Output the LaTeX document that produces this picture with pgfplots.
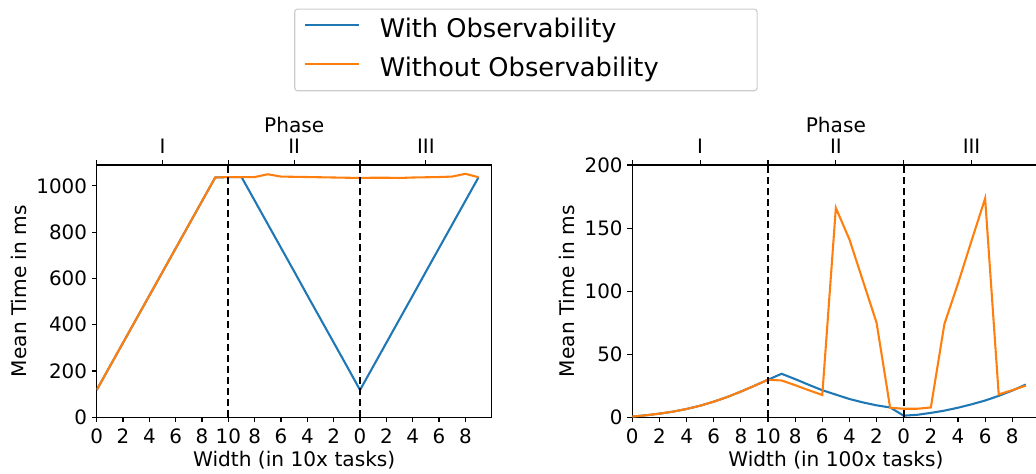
\documentclass[border=0pt]{standalone}
\usepackage{pgfplots}
\pgfplotsset{compat=1.18}
\usepackage{fontspec}
\setmainfont{DejaVu Sans}
\definecolor{mblue}{HTML}{1F77B4}
\definecolor{morange}{HTML}{FF7F0E}

\pgfplotstableread{
x y
0 118
1 220
2 322
3 424
4 526
5 628
6 730
7 832
8 934
9 1036
10 1038
11 1038
12 936
13 834
14 732
15 630
16 527
17 425
18 323
19 221
20 118
21 220
22 322
23 424
24 526
25 629
26 731
27 833
28 935
29 1037
}\leftblue
\pgfplotstableread{
x y
0 118
1 220
2 322
3 424
4 526
5 628
6 730
7 832
8 934
9 1036
10 1038
11 1038
12 1038
13 1050
14 1040
15 1039
16 1038
17 1037
18 1036
19 1035
20 1034
21 1035
22 1035
23 1034
24 1036
25 1037
26 1038
27 1040
28 1052
29 1037
}\leftorange
\pgfplotstableread{
x y
0 0.6
1 1.6
2 2.9
3 4.5
4 6.6
5 9.2
6 12.4
7 16.1
8 20.4
9 25.0
10 29.8
11 34.5
12 30.3
13 25.8
14 21.5
15 18.0
16 14.5
17 11.8
18 9.5
19 7.8
20 1.3
21 2.0
22 3.5
23 5.3
24 7.6
25 10.3
26 13.3
27 17.0
28 21.2
29 26.0
}\rightblue
\pgfplotstableread{
x y
0 0.6
1 1.6
2 2.9
3 4.5
4 6.6
5 9.2
6 12.4
7 16.1
8 20.4
9 25.0
10 29.8
11 29.2
12 25.5
13 21.5
14 17.7
15 166
16 141
17 108
18 75
19 7.6
20 6.8
21 6.8
22 7.8
23 74
24 106
25 140
26 173.5
27 18.2
28 21.5
29 25.1
}\rightorange

\newcommand{\labfont}{\fontsize{14.5}{17}\selectfont}
\pgfplotsset{
  mybase/.style={
    scale only axis,
    height=181.66pt,
    xmin=0, xmax=30, ymin=0,
    axis line style={black, line width=0.8pt},
    tick style={black, line width=0.8pt},
    major tick length=3.5pt,
    tick align=outside,
    ticklabel style={font=\fontsize{14.3}{17}\selectfont, inner sep=0pt},
    /pgf/number format/assume math mode=true,
    /pgf/number format/1000 sep={},
  },
  mainax/.style={
    mybase,
    tick pos=left,
    xtick={0,2,...,28},
    xticklabels={0,2,4,6,8,10,8,6,4,2,0,2,4,6,8},
    every axis x label/.style={at={([yshift=-35.1pt]axis description cs:0.5,0)}, anchor=base, font=\labfont, inner sep=0pt},
    xticklabel style={anchor=north, yshift=-4.4pt},
    yticklabel style={anchor=east, xshift=-3.3pt},
  },
  topax/.style={
    mybase,
    ymax=1,
    axis x line*=top,
    axis y line=none,
    xtick={0,5,...,25},
    xticklabels={,I,,II,,III},
    xlabel={Phase},
    every axis x label/.style={at={([yshift=23.26pt]axis description cs:0.5,1)}, anchor=base, font=\labfont, inner sep=0pt},
    xticklabel style={anchor=base, yshift=4.9pt},
  },
}

\begin{document}
\begin{tikzpicture}
% ---------- left panel ----------
\begin{axis}[mainax,
  at={(69.62pt,-300.46pt)}, anchor=south west,
  width=284.4pt, ymax=1090,
  ytick={0,200,...,1000},
  xlabel={Width (in 10x tasks)},
  ylabel={Mean Time in ms},
  every axis y label/.style={at={([xshift=-50.4pt]axis description cs:0,0.5)}, rotate=90, anchor=base, font=\labfont, inner sep=0pt},
  legend cell align=left,
  legend image code/.code={\draw[#1, line width=1.5pt] (0pt,0.39em) -- (38.9pt,0.39em);},
  legend style={at={(1.0866,1.456)}, anchor=center,
    draw=black!20, line width=0.8pt, rounded corners=2pt,
    font=\fontsize{18.5}{22}\selectfont,
    inner xsep=6.5pt, inner ysep=6.6pt, row sep=9.6pt, column sep=0pt,
    nodes={inner sep=0pt, text height=14pt, text depth=4pt}},
]
\addplot[mblue, line width=1.5pt] table[x=x,y=y] {\leftblue};
\addlegendentry{\hspace*{14.4pt}With Observability}
\addplot[morange, line width=1.5pt] table[x=x,y=y] {\leftorange};
\addlegendentry{\hspace*{14.4pt}Without Observability\hspace*{64.3pt}}
\draw[black, line width=1.3pt, dash pattern=on 5pt off 3pt] (axis cs:10,0) -- (axis cs:10,1090);
\draw[black, line width=1.3pt, dash pattern=on 5pt off 3pt] (axis cs:20,0) -- (axis cs:20,1090);
\end{axis}
\begin{axis}[topax, at={(69.62pt,-300.46pt)}, anchor=south west, width=284.4pt]
\end{axis}

% ---------- right panel ----------
\begin{axis}[mainax,
  at={(455.26pt,-300.46pt)}, anchor=south west,
  width=293.1pt, ymax=200,
  ytick={0,50,...,200},
  xlabel={Width (in 100x tasks)},
  ylabel={Mean Time in ms},
  every axis y label/.style={at={([xshift=-41.3pt]axis description cs:0,0.5)}, rotate=90, anchor=base, font=\labfont, inner sep=0pt},
]
\addplot[mblue, line width=1.5pt] table[x=x,y=y] {\rightblue};
\addplot[morange, line width=1.5pt] table[x=x,y=y] {\rightorange};
\draw[black, line width=1.3pt, dash pattern=on 5pt off 3pt] (axis cs:10,0) -- (axis cs:10,200);
\draw[black, line width=1.3pt, dash pattern=on 5pt off 3pt] (axis cs:20,0) -- (axis cs:20,200);
\end{axis}
\begin{axis}[topax, at={(455.26pt,-300.46pt)}, anchor=south west, width=293.1pt]
\end{axis}

\pgfresetboundingbox
\path[use as bounding box] (0pt,0pt) rectangle (745.92pt,-340.56pt);
\end{tikzpicture}
\end{document}
